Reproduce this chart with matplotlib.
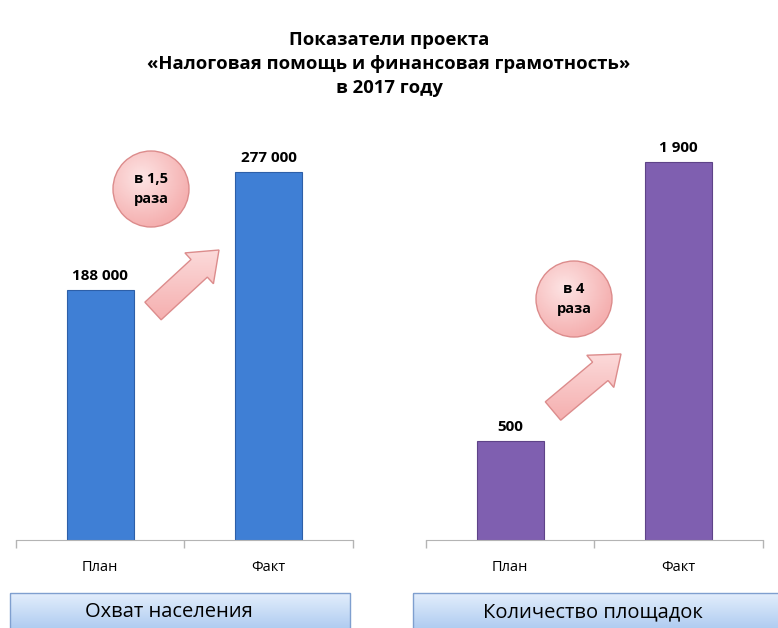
import numpy as np
import matplotlib.pyplot as plt
from matplotlib.patches import Circle, Polygon, Rectangle

plt.rcParams['font.family'] = ['Open Sans', 'DejaVu Sans']

title = 'Показатели проекта\n«Налоговая помощь и финансовая грамотность»\nв 2017 году'
categories = ['План', 'Факт']
coverage = [188000, 277000]
venues = [500, 1900]
panel_titles = ['Охват населения', 'Количество площадок']
ratio_notes = ['в 1,5\nраза', 'в 4\nраза']


def fmt(v):
    return f'{v:,}'.replace(',', ' ')


def gradient_fill(ax, patch, c_top, c_bot, extent, radial=False):
    n = 100
    c_top = np.array(plt.matplotlib.colors.to_rgb(c_top))
    c_bot = np.array(plt.matplotlib.colors.to_rgb(c_bot))
    if radial:
        yy, xx = np.mgrid[-1:1:n * 1j, -1:1:n * 1j]
        t = np.clip(np.sqrt((xx + 0.25) ** 2 + (yy + 0.3) ** 2) / 1.3, 0, 1)[..., None]
    else:
        t = np.linspace(0, 1, n)[:, None, None] * np.ones((1, 2, 1))
    img = c_top * (1 - t) + c_bot * t
    im = ax.imshow(img, extent=extent, aspect='auto', zorder=patch.get_zorder() - 0.1,
                   interpolation='bilinear')
    im.set_clip_path(patch)


def arrow_poly(tail, tip, shaft=24, head_w=42, head_l=27):
    tail, tip = np.array(tail, float), np.array(tip, float)
    d = tip - tail
    L = np.hypot(*d)
    u = d / L
    n = np.array([-u[1], u[0]])
    base = tip - u * head_l
    return [tail + n * shaft / 2, base + n * shaft / 2, base + n * head_w / 2, tip,
            base - n * head_w / 2, base - n * shaft / 2, tail - n * shaft / 2]


fig = plt.figure(figsize=(7.78, 6.28), dpi=100)
fig.text(0.5, 0.898, title, ha='center', va='center', fontsize=13.3,
         fontweight='bold', linespacing=1.45)

panels = [
    ([0.0206, 0.140, 0.433, 0.635], coverage, 300000, '#3f7fd5', '#2d5fa8'),
    ([0.5476, 0.140, 0.433, 0.635], venues, 2005, '#7f5fb0', '#5e4388'),
]
for rect, vals, top, col, edge in panels:
    ax = fig.add_axes(rect)
    x = np.arange(len(categories))
    ax.bar(x, vals, width=0.40, color=col, edgecolor=edge, linewidth=0.8)
    for xi, v in zip(x, vals):
        ax.annotate(fmt(v), (xi, v), xytext=(0, 5), textcoords='offset points',
                    ha='center', va='bottom', fontsize=11, fontweight='bold')
    ax.set_xlim(-0.5, 1.5)
    ax.set_ylim(0, top)
    ax.set_xticks(x)
    ax.set_xticklabels(categories, fontsize=10.5)
    ax.tick_params(axis='x', which='major', length=0, pad=14)
    ax.set_xticks([-0.5, 0.5, 1.5], minor=True)
    ax.tick_params(axis='x', which='minor', length=6, color='#b4b4b4', width=1)
    ax.set_yticks([])
    for s in ['left', 'right', 'top']:
        ax.spines[s].set_visible(False)
    ax.spines['bottom'].set_color('#b4b4b4')
    ax.patch.set_visible(False)

# decorations in pixel coordinates
ov = fig.add_axes([0, 0, 1, 1], zorder=5)
ov.set_xlim(0, 778)
ov.set_ylim(628, 0)
ov.axis('off')
ov.patch.set_visible(False)

# bottom caption boxes
for (x0, x1), xc, label in zip([(10, 350), (413, 790)], [169, 593], panel_titles):
    r = Rectangle((x0, 593), x1 - x0, 40, facecolor='none', edgecolor='#7f9fcf',
                  linewidth=1, zorder=3)
    ov.add_patch(r)
    gradient_fill(ov, r, '#e3eefc', '#a9c8ef', (x0, x1, 633, 593))
    ov.text(xc, 612, label, ha='center', va='center', fontsize=14.5, zorder=4)

# ratio circles
for (cx, cy), note in zip([(151, 189), (574, 299)], ratio_notes):
    c = Circle((cx, cy), 38, facecolor='none', edgecolor='#dc8c8c', linewidth=1, zorder=3)
    ov.add_patch(c)
    gradient_fill(ov, c, '#fde4e4', '#f5b0b0', (cx - 38, cx + 38, cy + 38, cy - 38), radial=True)
    ov.text(cx, cy, note, ha='center', va='center', fontsize=10.5, fontweight='bold',
            linespacing=1.6, zorder=4)

# arrows
for tail, tip in [((153, 311), (219, 250)), ((553, 411), (621, 354))]:
    pts = np.array(arrow_poly(tail, tip))
    p = Polygon(pts, closed=True, facecolor='none', edgecolor='#dc8c8c', linewidth=1, zorder=3)
    ov.add_patch(p)
    xs, ys = pts[:, 0], pts[:, 1]
    gradient_fill(ov, p, '#fcdada', '#f5afaf', (xs.min(), xs.max(), ys.max(), ys.min()))

fig.savefig('out.png', dpi=100)
